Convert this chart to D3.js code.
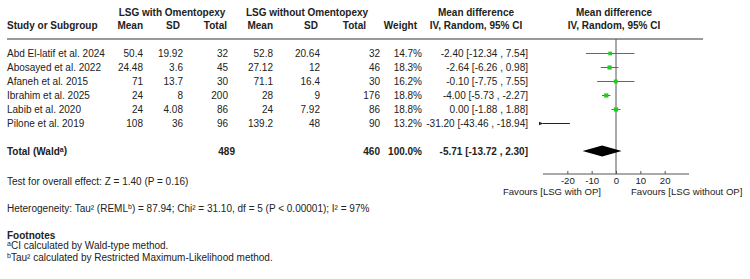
<!DOCTYPE html>
<html>
<head>
<meta charset="utf-8">
<script src="https://d3js.org/d3.v7.min.js"></script>
<style>
    body { margin: 0; background: #fff; }
    svg { font-family: "Liberation Sans", Arial, sans-serif; font-size: 10px; }
    .txt { fill: #222; }
    .bold { font-weight: bold; }
    .axis path, .axis line { stroke: #555; }
    .axis text { fill: #222; font-size: 9.6px; font-family: "Liberation Sans", Arial, sans-serif; }
</style>
</head>
<body>
<div id="chart"></div>
<script>
// study data
var studies = ["Abd El-latif et al. 2024", "Abosayed et al. 2022", "Afaneh et al. 2015",
               "Ibrahim et al.  2025", "Labib et al. 2020", "Pilone et al. 2019"];
var mean1 = ["50.4", "24.48", "71", "24", "24", "108"];
var sd1 = ["19.92", "3.6", "13.7", "8", "4.08", "36"];
var total1 = [32, 45, 30, 200, 86, 96];
var mean2 = ["52.8", "27.12", "71.1", "28", "24", "139.2"];
var sd2 = ["20.64", "12", "16.4", "9", "7.92", "48"];
var total2 = [32, 46, 30, 176, 86, 90];
var weights = [14.7, 18.3, 16.2, 18.8, 18.8, 13.2];
var md = [-2.40, -2.64, -0.10, -4.00, 0.00, -31.20];
var ciLow = [-12.34, -6.26, -7.75, -5.73, -1.88, -43.46];
var ciHigh = [7.54, 0.98, 7.55, -2.27, 1.88, -18.94];

// pooled result
var pooled = {n1: 489, n2: 460, weight: "100.0%", md: -5.71, lo: -13.72, hi: 2.30};
var xTicks = [-20, -10, 0, 10, 20];

var width = 750, height = 279;

var svg = d3.select("#chart").append("svg")
    .attr("width", width)
    .attr("height", height);

// plain hyphen instead of the unicode minus d3 uses
var fmt = v => d3.format(".2f")(v).replace("\u2212", "-");

// column right edges
var cols = {mean1: 143, sd1: 183, n1: 228, mean2: 273, sd2: 320, n2: 380, w: 422, md: 528};

var yRow = d3.scaleLinear().domain([0, 1]).range([53.5, 67.5]);
var x = d3.scaleLinear().domain([-30, 30]).range([543, 689]);

function text(tx, ty, str, anchor, cls) {
    return svg.append("text")
        .attr("class", "txt " + (cls || ""))
        .attr("x", tx)
        .attr("y", ty)
        .attr("dy", "0.35em")
        .attr("text-anchor", anchor || "start")
        .text(str);
}

/* headers */
text(172, 12, "LSG with Omentopexy", "middle", "bold");
text(307, 12, "LSG without Omentopexy", "middle", "bold");
text(476, 12, "Mean difference", "middle", "bold");
text(614, 12, "Mean difference", "middle", "bold");
text(7, 25, "Study or Subgroup", "start", "bold");
text(143, 25, "Mean", "end", "bold");
text(180, 25, "SD", "end", "bold");
text(227, 25, "Total", "end", "bold");
text(273, 25, "Mean", "end", "bold");
text(318, 25, "SD", "end", "bold");
text(366, 25, "Total", "end", "bold");
text(417, 25, "Weight", "end", "bold");
text(476, 25, "IV, Random, 95% CI", "middle", "bold");
text(614, 25, "IV, Random, 95% CI", "middle", "bold");

svg.append("line")
    .attr("x1", 7).attr("x2", 703)
    .attr("y1", 39).attr("y2", 39)
    .attr("stroke", "#777").attr("stroke-width", 1.5);

/* study rows */
studies.forEach(function(s, i) {
    var y = yRow(i);
    text(7, y, s);
    text(cols.mean1, y, mean1[i], "end");
    text(cols.sd1, y, sd1[i], "end");
    text(cols.n1, y, total1[i], "end");
    text(cols.mean2, y, mean2[i], "end");
    text(cols.sd2, y, sd2[i], "end");
    text(cols.n2, y, total2[i], "end");
    text(cols.w, y, weights[i].toFixed(1) + "%", "end");
    text(cols.md, y, fmt(md[i]) + " [" + fmt(ciLow[i]) + " , " + fmt(ciHigh[i]) + "]", "end");
});

/* zero line */
svg.append("line")
    .attr("x1", x(0)).attr("x2", x(0))
    .attr("y1", 39).attr("y2", 174)
    .attr("stroke", "#555").attr("stroke-width", 1);

svg.append("defs").append("marker")
    .attr("id", "arrow")
    .attr("viewBox", "0 0 10 10")
    .attr("refX", 1).attr("refY", 5)
    .attr("markerWidth", 5).attr("markerHeight", 5)
    .attr("orient", "auto-start-reverse")
    .append("path")
    .attr("d", "M10,1 L0,5 L10,9 z")
    .attr("fill", "#222");

/* CIs and squares */
var dom = x.domain();
studies.forEach(function(s, i) {
    var y = yRow(i);
    var lo = Math.max(ciLow[i], dom[0]);
    var hi = Math.min(ciHigh[i], dom[1]);
    var ln = svg.append("line")
        .attr("x1", x(lo)).attr("x2", x(hi))
        .attr("y1", y).attr("y2", y)
        .attr("stroke", ciLow[i] < dom[0] ? "#222" : "#666")
        .attr("stroke-width", 1);
    if (ciLow[i] < dom[0]) ln.attr("marker-start", "url(#arrow)");
    if (md[i] >= dom[0] && md[i] <= dom[1]) {
        var sz = 4.2 * Math.sqrt(weights[i] / 18.8);
        svg.append("rect")
            .attr("x", x(md[i]) - sz / 2)
            .attr("y", y - sz / 2)
            .attr("width", sz).attr("height", sz)
            .attr("fill", "#22cc22");
    }
});

/* total row */
var yT = 151;
svg.append("text").attr("class", "txt bold").attr("x", 7).attr("y", yT).attr("dy", "0.35em")
    .text("Total (Wald")
    .call(function(t) {
        t.append("tspan").attr("font-size", "7px").attr("dy", "-0.3em").text("a");
        t.append("tspan").attr("dy", "0.15em").text(")");
    });
text(235, yT, pooled.n1, "end", "bold");
text(cols.n2, yT, pooled.n2, "end", "bold");
text(cols.w, yT, pooled.weight, "end", "bold");
text(cols.md, yT, fmt(pooled.md) + " [" + fmt(pooled.lo) + " , " + fmt(pooled.hi) + "]", "end", "bold");

svg.append("path")
    .attr("d", "M" + x(pooled.lo) + "," + yT +
               "L" + x(pooled.md) + "," + (yT - 5.5) +
               "L" + x(pooled.hi) + "," + yT +
               "L" + x(pooled.md) + "," + (yT + 5.5) + "Z")
    .attr("fill", "#000");

/* axis */
svg.append("g")
    .attr("class", "axis")
    .attr("transform", "translate(0,174)")
    .call(d3.axisBottom(x).tickValues(xTicks).tickSize(-3).tickSizeOuter(0).tickPadding(3)
        .tickFormat(d => String(d)))
    .call(g => g.select(".domain").attr("d", "M" + x.range()[0] + ",0H" + x.range()[1]));

svg.append("text").attr("class", "txt").attr("x", 601).attr("y", 192).attr("dy", "0.35em")
    .attr("text-anchor", "end").style("font-size", "9.6px").text("Favours [LSG with OP]");
svg.append("text").attr("class", "txt").attr("x", 631).attr("y", 192).attr("dy", "0.35em")
    .style("font-size", "9.6px").text("Favours [LSG without OP]");

/* footer */
text(7, 181, "Test for overall effect: Z = 1.40 (P = 0.16)");
svg.append("text").attr("class", "txt").attr("x", 7).attr("y", 208).attr("dy", "0.35em")
    .text("Heterogeneity: Tau² (REML")
    .call(function(t) {
        t.append("tspan").attr("font-size", "7px").attr("dy", "-0.3em").text("b");
        t.append("tspan").attr("dy", "0.3em").text(") = 87.94; Chi² = 31.10, df = 5 (P < 0.00001); I² = 97%");
    });

text(7, 235, "Footnotes", "start", "bold");
svg.append("text").attr("class", "txt").attr("x", 7).attr("y", 248).attr("dy", "0.35em")
    .call(function(t) {
        t.append("tspan").attr("font-size", "7px").attr("dy", "-0.3em").text("a");
        t.append("tspan").attr("dy", "0.3em").text("CI calculated by Wald-type method.");
    });
svg.append("text").attr("class", "txt").attr("x", 7).attr("y", 260).attr("dy", "0.35em")
    .call(function(t) {
        t.append("tspan").attr("font-size", "7px").attr("dy", "-0.3em").text("b");
        t.append("tspan").attr("dy", "0.3em").text("Tau² calculated by Restricted Maximum-Likelihood method.");
    });
</script>
</body>
</html>
